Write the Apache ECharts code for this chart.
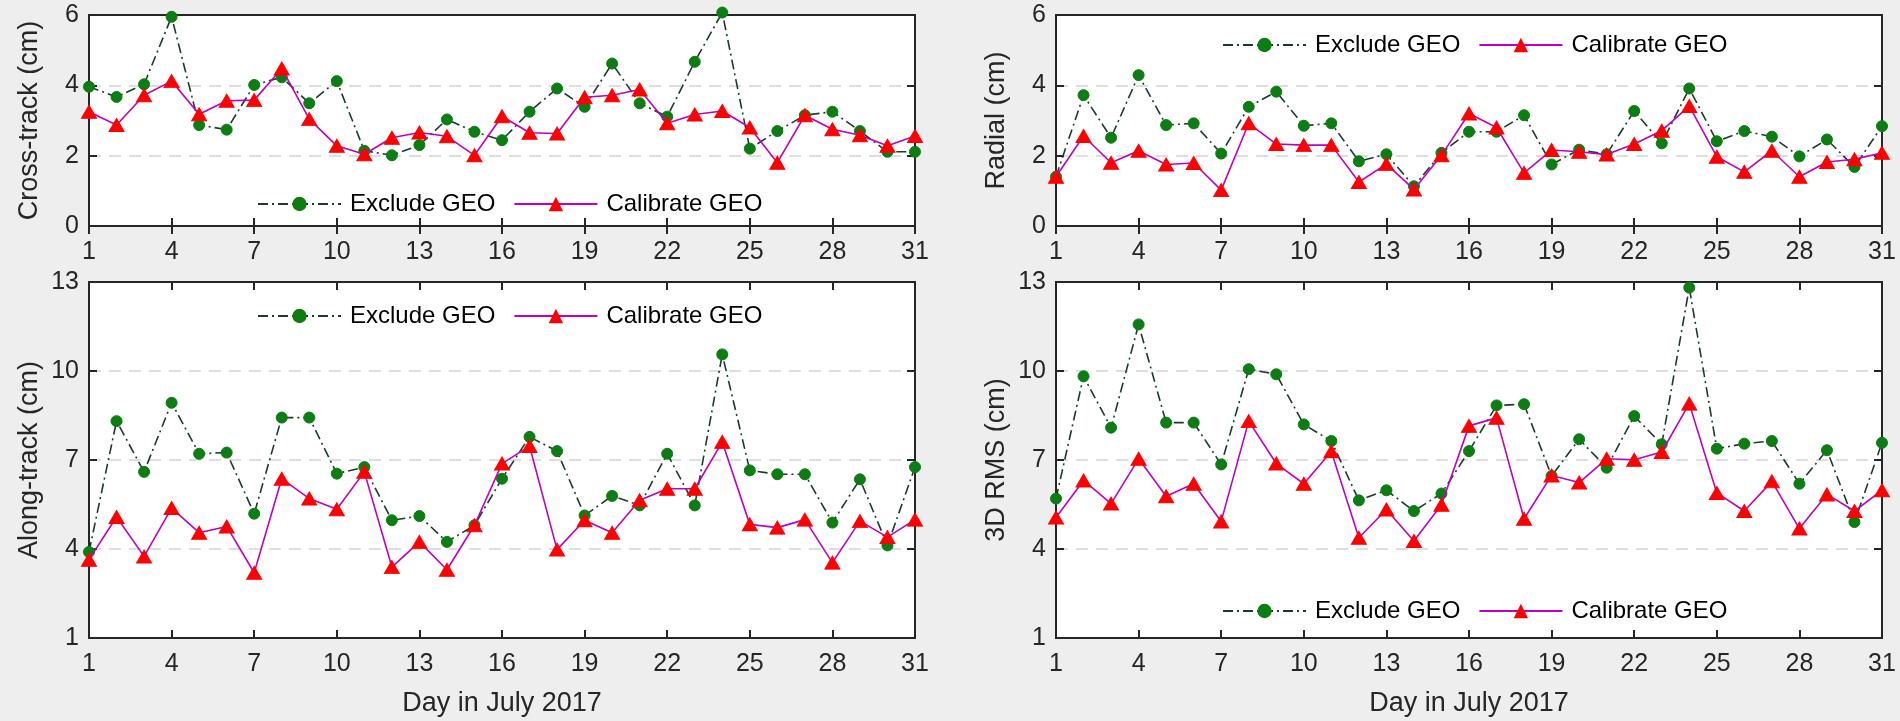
<!DOCTYPE html>
<html>
<head>
<meta charset="utf-8">
<script src="https://cdn.jsdelivr.net/npm/echarts@6/dist/echarts.min.js"></script>
<style>
html,body{margin:0;padding:0;background:#eeeeee;}
#c{width:1900px;height:721px;}
</style>
</head>
<body>
<div id="c"></div>
<script>
const days = ['1','2','3','4','5','6','7','8','9','10','11','12','13','14','15','16','17','18','19','20','21','22','23','24','25','26','27','28','29','30','31'];

const crossExclude = [3.96,3.67,4.03,5.95,2.87,2.74,4.01,4.23,3.49,4.12,2.14,2.01,2.30,3.03,2.68,2.44,3.25,3.91,3.39,4.62,3.49,3.11,4.67,6.07,2.20,2.70,3.15,3.25,2.70,2.11,2.11];
const crossCalib   = [3.25,2.87,3.72,4.12,3.18,3.56,3.58,4.48,3.04,2.28,2.04,2.51,2.66,2.55,2.01,3.12,2.65,2.63,3.66,3.72,3.88,2.92,3.17,3.27,2.80,1.80,3.15,2.75,2.58,2.28,2.56];

const radialExclude = [1.40,3.72,2.51,4.29,2.87,2.92,2.06,3.39,3.82,2.85,2.92,1.84,2.04,1.13,2.08,2.68,2.68,3.15,1.75,2.17,2.04,3.27,2.35,3.91,2.41,2.70,2.54,1.98,2.46,1.68,2.84];
const radialCalib   = [1.40,2.56,1.80,2.14,1.75,1.79,1.02,2.92,2.33,2.30,2.30,1.25,1.76,1.04,2.01,3.20,2.80,1.51,2.16,2.11,2.03,2.33,2.71,3.41,1.97,1.54,2.14,1.40,1.82,1.90,2.08];

const alongExclude = [3.90,8.31,6.60,8.93,7.21,7.25,5.19,8.43,8.43,6.54,6.76,4.97,5.11,4.24,4.80,6.37,7.78,7.30,5.13,5.79,5.47,7.21,5.47,10.56,6.65,6.52,6.52,4.89,6.35,4.12,6.76];
const alongCalib   = [3.64,5.08,3.75,5.38,4.55,4.76,3.20,6.37,5.70,5.34,6.60,3.39,4.24,3.30,4.80,6.88,7.47,3.98,4.97,4.55,5.64,6.03,6.03,7.61,4.83,4.72,4.99,3.54,4.94,4.40,4.99];

const rmsExclude = [5.70,9.82,8.09,11.57,8.26,8.26,6.85,10.06,9.89,8.20,7.64,5.64,5.98,5.28,5.87,7.30,8.84,8.88,6.46,7.70,6.74,8.48,7.53,12.81,7.38,7.55,7.64,6.20,7.33,4.91,7.58];
const rmsCalib   = [5.06,6.31,5.53,7.04,5.78,6.20,4.93,8.31,6.88,6.20,7.29,4.38,5.33,4.27,5.49,8.15,8.42,5.02,6.48,6.24,7.04,7.01,7.27,8.90,5.89,5.28,6.28,4.69,5.84,5.28,5.98];

const yNames = ['Cross-track (cm)','Radial (cm)','Along-track (cm)','3D RMS (cm)'];
const yRanges = [[0,6,2],[0,6,2],[1,13,3],[1,13,3]];
const xName = 'Day in July 2017';
const seriesNames = ['Exclude GEO','Calibrate GEO'];

const FONT = '"Liberation Sans", Arial, sans-serif';
const TXT = '#262626';
const grids = [
  {left:89, top:15, width:826, height:211},
  {left:1056, top:15, width:826, height:211},
  {left:89, top:282, width:826, height:356},
  {left:1056, top:282, width:826, height:356}
];
const legendPos = [
  {left:252, top:187},
  {left:1217, top:28},
  {left:252, top:299},
  {left:1217, top:594}
];
const dataPairs = [[crossExclude,crossCalib],[radialExclude,radialCalib],[alongExclude,alongCalib],[rmsExclude,rmsCalib]];

const xAxes = [], yAxes = [], series = [], legends = [];
grids.forEach((g,i)=>{
  g.show = true; g.backgroundColor = '#ffffff'; g.borderColor = TXT; g.borderWidth = 2; g.containLabel = false;
  const bottomPanel = i >= 2;
  xAxes.push({
    type:'category', gridIndex:i, data:days, boundaryGap:false, position:'bottom',
    axisLine:{show:true, lineStyle:{color:TXT, width:2}},
    axisTick:{show:true, inside:true, interval:2, length:8, lineStyle:{color:TXT, width:2}},
    axisLabel:{show:true, interval:2, color:TXT, fontSize:25, fontFamily:FONT, margin:14},
    splitLine:{show:false},
    name: bottomPanel ? xName : '', nameLocation:'middle', nameGap:52,
    nameTextStyle:{color:TXT, fontSize:27, fontFamily:FONT}
  });
  xAxes.push({
    type:'category', gridIndex:i, data:days, boundaryGap:false, position:'top',
    axisLine:{show:true, lineStyle:{color:TXT, width:2}},
    axisTick:{show:true, inside:true, interval:2, length:8, lineStyle:{color:TXT, width:2}},
    axisLabel:{show:false}, splitLine:{show:false}
  });
  const r = yRanges[i];
  yAxes.push({
    type:'value', gridIndex:i, min:r[0], max:r[1], interval:r[2], position:'left',
    axisLine:{show:true, lineStyle:{color:TXT, width:2}},
    axisTick:{show:true, inside:true, length:8, lineStyle:{color:TXT, width:2}},
    axisLabel:{show:true, color:TXT, fontSize:25, fontFamily:FONT, margin:10},
    splitLine:{show:true, showMinLine:false, showMaxLine:false, lineStyle:{color:'#d4d4d4', width:1.5, type:[12,8]}},
    name:yNames[i], nameLocation:'middle', nameGap:46,
    nameTextStyle:{color:TXT, fontSize:27, fontFamily:FONT}
  });
  yAxes.push({
    type:'value', gridIndex:i, min:r[0], max:r[1], interval:r[2], position:'right',
    axisLine:{show:true, lineStyle:{color:TXT, width:2}},
    axisTick:{show:true, inside:true, length:8, lineStyle:{color:TXT, width:2}},
    axisLabel:{show:false}, splitLine:{show:false}
  });
  const [ex, ca] = dataPairs[i];
  series.push({
    name:seriesNames[0], type:'line', xAxisIndex:2*i, yAxisIndex:2*i, data:ex, clip:false, z:3,
    symbol:'circle', symbolSize:11, showAllSymbol:true, animation:false,
    lineStyle:{color:'#1d3b2b', width:1.6, type:[10,4,2,4]},
    itemStyle:{color:'#0b7d12', borderColor:'#0b7d12'}
  });
  series.push({
    name:seriesNames[1], type:'line', xAxisIndex:2*i, yAxisIndex:2*i, data:ca, clip:false, z:4,
    symbol:'triangle', symbolSize:[15,13], showAllSymbol:true, animation:false,
    lineStyle:{color:'#c000c0', width:1.6},
    itemStyle:{color:'#ff0000', borderColor:'#ff0000'}
  });
  legends.push({
    left:legendPos[i].left, top:legendPos[i].top, orient:'horizontal',
    itemWidth:83, itemHeight:18, itemGap:18, selectedMode:false,
    textStyle:{color:'#000', fontSize:24, fontFamily:FONT, padding:[0,0,0,4]},
    data:seriesNames
  });
});

const chart = echarts.init(document.getElementById('c'), null, {renderer:'canvas'});
chart.setOption({
  backgroundColor:'#eeeeee',
  animation:false,
  grid:grids, xAxis:xAxes, yAxis:yAxes, series:series, legend:legends
});
</script>
</body>
</html>
